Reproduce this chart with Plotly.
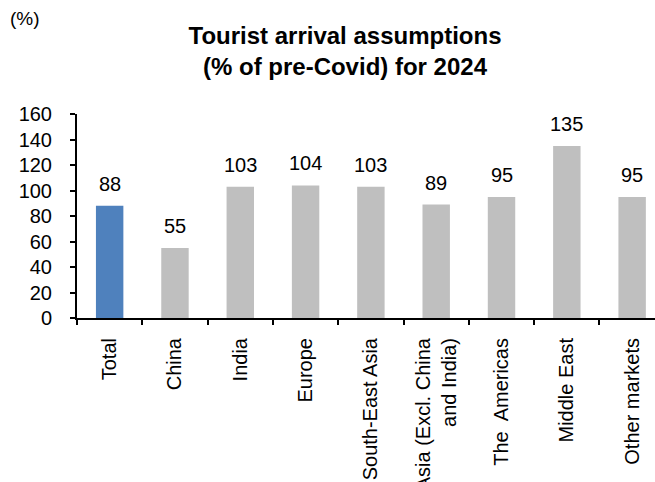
import plotly.graph_objects as go

# Tourist arrival assumptions for 2024, as % of pre-Covid levels
categories = ["Total", "China", "India", "Europe", "South-East Asia",
              "Asia (Excl. China<br>and India)", "The  Americas", "Middle East",
              "Other markets"]
values = [88, 55, 103, 104, 103, 89, 95, 135, 95]
y_ticks = [0, 20, 40, 60, 80, 100, 120, 140, 160]

BLUE = "#4f81bd"
GREY = "#bfbfbf"
FONT = "Liberation Sans, Arial, sans-serif"

colors = [BLUE] + [GREY] * (len(categories) - 1)

fig = go.Figure(
    go.Bar(
        x=categories,
        y=values,
        marker=dict(color=colors, line=dict(width=0)),
        hoverinfo="x+y",
    )
)

# value labels above each bar
for cat, val in zip(categories, values):
    fig.add_annotation(
        x=cat, y=val, text=str(val), showarrow=False,
        xref="x", yref="y", yanchor="middle", yshift=22,
        font=dict(family=FONT, size=20, color="#000000"),
    )

# unit label in the top-left corner
fig.add_annotation(
    xref="paper", yref="paper", x=(8 - 77) / 578, y=1 + (114 - 19) / 204,
    xanchor="left", yanchor="middle", text="(%)", showarrow=False,
    font=dict(family=FONT, size=19, color="#000000"),
)

fig.update_layout(
    width=655,
    height=482,
    margin=dict(l=77, r=0, t=114, b=164, autoexpand=False),
    paper_bgcolor="white",
    plot_bgcolor="white",
    bargap=0.58,
    showlegend=False,
    font=dict(family=FONT, size=20, color="#000000"),
    title=dict(
        text="<b>Tourist arrival assumptions<br>(% of pre-Covid) for 2024</b>",
        x=345 / 655, xanchor="center",
        y=1 - 44 / 482, yanchor="top", yref="container",
        font=dict(family=FONT, size=24, color="#000000"),
    ),
    xaxis=dict(
        type="category",
        range=[-0.5, 8.35],
        automargin=False,
        showline=True, linecolor="#000000", linewidth=2,
        ticks="outside", tickson="boundaries", ticklen=5,
        tickcolor="#000000", tickwidth=2,
        tickangle=-90,
        ticklabelstandoff=10,
        tickfont=dict(family=FONT, size=20, color="#000000"),
        showgrid=False, zeroline=False,
    ),
    yaxis=dict(
        range=[0, 160],
        tickvals=y_ticks,
        automargin=False,
        showline=True, linecolor="#000000", linewidth=2,
        ticks="outside", ticklen=5, tickcolor="#000000", tickwidth=2,
        ticklabelstandoff=14,
        tickfont=dict(family=FONT, size=20, color="#000000"),
        showgrid=False, zeroline=False,
    ),
)

fig.write_html("out.html")
